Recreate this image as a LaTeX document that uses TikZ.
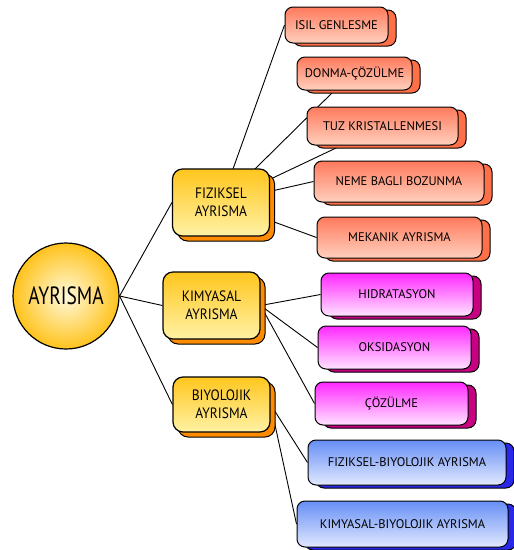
\documentclass[tikz,border=0pt]{standalone}
\usepackage{fontspec}
\setmainfont{PT Sans}
\newfontfamily\circfont[FakeStretch=0.78]{PT Sans}
\newfontfamily\midfont[FakeStretch=0.9]{PT Sans}
\usetikzlibrary{shadows,backgrounds}

\definecolor{saltop}{RGB}{255,122,92}
\definecolor{salbot}{RGB}{255,208,190}
\definecolor{salshadow}{RGB}{255,112,72}
\definecolor{magtop}{RGB}{255,40,255}
\definecolor{magbot}{RGB}{255,228,255}
\definecolor{magshadow}{RGB}{200,0,130}
\definecolor{blutop}{RGB}{102,142,245}
\definecolor{blubot}{RGB}{226,233,255}
\definecolor{blushadow}{RGB}{40,40,230}
\definecolor{yeltop}{RGB}{255,198,30}
\definecolor{yelbot}{RGB}{255,242,165}
\definecolor{yelshadow}{RGB}{255,140,0}

\tikzset{
  leafbox/.style={draw=black,line width=1pt,rounded corners=8pt,inner sep=0pt,
    font=\fontsize{12.5}{14}\selectfont},
  fizleaf/.style={leafbox,top color=saltop,bottom color=salbot,
    general shadow={shadow xshift=8pt,shadow yshift=-3pt,fill=salshadow,draw=black,line width=1pt}},
  kimleaf/.style={leafbox,top color=magtop,bottom color=magbot,
    general shadow={shadow xshift=8pt,shadow yshift=-3pt,fill=magshadow,draw=black,line width=1pt}},
  biyleaf/.style={leafbox,top color=blutop,bottom color=blubot,
    general shadow={shadow xshift=8pt,shadow yshift=-3pt,fill=blushadow,draw=black,line width=1pt}},
  midbox/.style={draw=black,line width=1.2pt,rounded corners=10pt,inner sep=0pt,align=center,
    top color=yeltop,bottom color=yelbot,minimum width=97pt,
    font=\midfont\fontsize{15}{18}\selectfont,
    general shadow={shadow xshift=5pt,shadow yshift=-5pt,fill=yelshadow,draw=black,line width=1pt}},
  link/.style={draw=black,line width=0.9pt}
}

\begin{document}
\begin{tikzpicture}[x=1pt,y=-1pt]
\useasboundingbox (0,0) rectangle (514,550);

% root
\node[circle,draw=black,line width=1.2pt,minimum size=106pt,inner sep=0pt,
  inner color=yelbot!40!white,outer color=yeltop!95!orange,
  font=\circfont\fontsize{25}{30}\selectfont] (circ) at (66,296) {AYRISMA};

% main groups
\node[midbox,minimum height=67pt] (fiz) at (221,202.5) {FIZIKSEL\\AYRISMA};
\node[midbox,minimum height=67pt] (kim) at (211.5,305.5) {KIMYASAL\\AYRISMA};
\node[midbox,minimum height=55pt] (biy) at (221.5,404.5) {BIYOLOJIK\\AYRISMA};

% physical
\node[fizleaf,minimum width=103pt,minimum height=36pt] (isil) at (336.5,25) {ISIL GENLESME};
\node[fizleaf,minimum width=115pt,minimum height=33pt] (donma) at (354.5,73.5) {DONMA-ÇÖZÜLME};
\node[fizleaf,minimum width=151pt,minimum height=38pt] (tuz) at (382.5,126) {TUZ KRISTALLENMESI};
\node[fizleaf,minimum width=170pt,minimum height=41pt] (neme) at (399,181.5) {NEME BAGLI BOZUNMA};
\node[fizleaf,minimum width=165pt,minimum height=41pt] (mek) at (399.5,237.5) {MEKANIK AYRISMA};

% chemical
\node[kimleaf,minimum width=152pt,minimum height=43pt] (hid) at (397,294.5) {HIDRATASYON};
\node[kimleaf,minimum width=153pt,minimum height=43pt] (oks) at (394.5,347.5) {OKSIDASYON};
\node[kimleaf,minimum width=153pt,minimum height=43pt] (coz) at (391.5,403.5) {ÇÖZÜLME};

% biological
\node[biyleaf,minimum width=198pt,minimum height=45pt] (fb) at (407,462.5) {FIZIKSEL-BIYOLOJIK AYRISMA};
\node[biyleaf,minimum width=211pt,minimum height=46pt] (kb) at (402.5,524) {KIMYASAL-BIYOLOJIK AYRISMA};

\begin{scope}[on background layer]
\draw[link] (circ.east) -- (fiz.west);
\draw[link] (circ.east) -- (kim.west);
\draw[link] (circ.east) -- (biy.west);
\draw[link] (fiz.center) -- (isil.west);
\draw[link] (fiz.center) -- ([xshift=-20pt]donma.south);
\draw[link] (fiz.center) -- (tuz.center);
\draw[link] (fiz.center) -- (neme.west);
\draw[link] (fiz.center) -- (mek.west);
\draw[link] (kim.east) -- (hid.west);
\draw[link] (kim.east) -- (oks.west);
\draw[link] (kim.east) -- (coz.west);
\draw[link] (biy.east) -- (fb.west);
\draw[link] (biy.east) -- (kb.west);
\end{scope}
\end{tikzpicture}
\end{document}
